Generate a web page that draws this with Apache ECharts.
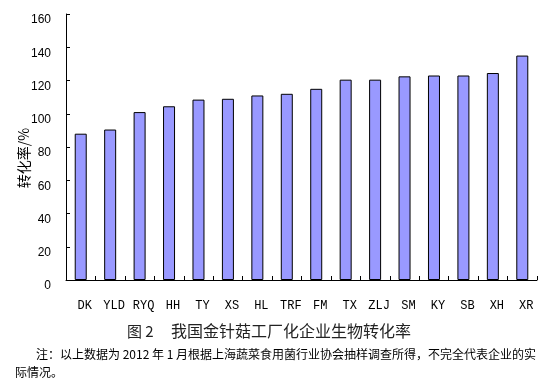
<!DOCTYPE html>
<html>
<head>
<meta charset="utf-8">
<script src="https://cdn.jsdelivr.net/npm/echarts@6/dist/echarts.min.js"></script>
<style>
html,body{margin:0;padding:0;background:#fff;}
#chart{width:546px;height:386px;}
</style>
</head>
<body>
<div id="chart"></div>
<script>
var categories = ['DK','YLD','RYQ','HH','TY','XS','HL','TRF','FM','TX','ZLJ','SM','KY','SB','XH','XR'];
var conversionRates = [88, 90.5, 101, 104.5, 108.5, 109, 111, 112, 115, 120.5, 120.5, 122.5, 123, 123, 124.5, 135];
var yTicks = {min: 0, max: 160, interval: 20};
var yAxisTitle = '转化率/%';
var figureNo = '图 2';
var figureTitle = '我国金针菇工厂化企业生物转化率';
var noteLine1 = '注：以上数据为 2012 年 1 月根据上海蔬菜食用菌行业协会抽样调查所得，不完全代表企业的实';
var noteLine2 = '际情况。';

var chart = echarts.init(document.getElementById('chart'), null, {renderer: 'canvas'});
chart.setOption({
  backgroundColor: '#ffffff',
  animation: false,
  grid: {left: 66, right: 9, top: 14, bottom: 106},
  xAxis: {
    type: 'category',
    data: categories,
    boundaryGap: true,
    axisLine: {lineStyle: {color: '#000', width: 1}},
    axisTick: {show: true, inside: true, length: 4, alignWithLabel: false, lineStyle: {color: '#000'}},
    axisLabel: {
      interval: 0, margin: 20, color: '#000',
      fontFamily: 'Liberation Mono', fontSize: 12,
      padding: [0, 0, 0, 8]
    },
    splitLine: {show: false}
  },
  yAxis: {
    type: 'value',
    min: yTicks.min, max: yTicks.max, interval: yTicks.interval,
    axisLine: {show: true, lineStyle: {color: '#000', width: 1}},
    axisTick: {show: true, inside: true, length: 4, lineStyle: {color: '#000'}},
    axisLabel: {
      margin: 15, color: '#000',
      fontFamily: 'Liberation Sans', fontSize: 12,
      verticalAlign: 'top'
    },
    splitLine: {show: false}
  },
  series: [{
    type: 'bar',
    data: conversionRates,
    barWidth: 12,
    itemStyle: {color: '#9999FF', borderColor: '#000', borderWidth: 1}
  }],
  graphic: [
    {
      type: 'text', x: 24, y: 158, rotation: Math.PI / 2,
      style: {text: yAxisTitle, fill: '#000', font: '14px "Noto Sans CJK SC"', align: 'center', verticalAlign: 'middle'}
    },
    {
      type: 'text', x: 127, y: 331,
      style: {text: figureNo, fill: '#222', font: '15px "Noto Sans CJK SC"', align: 'left', verticalAlign: 'middle'}
    },
    {
      type: 'text', x: 171, y: 331,
      style: {text: figureTitle, fill: '#222', font: '16px "Noto Sans CJK SC"', align: 'left', verticalAlign: 'middle'}
    },
    {
      type: 'text', x: 36, y: 354,
      style: {text: noteLine1, fill: '#000', font: '12px "Noto Sans CJK SC"', align: 'left', verticalAlign: 'middle'}
    },
    {
      type: 'text', x: 15, y: 372,
      style: {text: noteLine2, fill: '#000', font: '12px "Noto Sans CJK SC"', align: 'left', verticalAlign: 'middle'}
    }
  ]
});
</script>
</body>
</html>
